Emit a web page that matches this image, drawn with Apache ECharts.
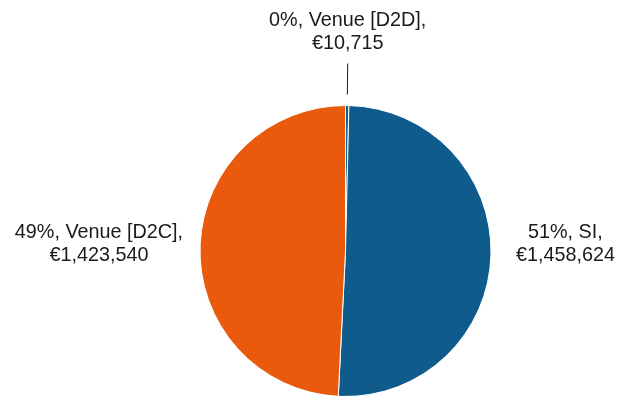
<!DOCTYPE html>
<html>
<head>
<meta charset="utf-8">
<script src="https://cdn.jsdelivr.net/npm/echarts@6/dist/echarts.min.js"></script>
<style>html,body{margin:0;padding:0;background:#fff}#c{width:617px;height:396px}</style>
</head>
<body>
<div id="c"></div>
<script>
const categories = ['Venue [D2D]', 'SI', 'Venue [D2C]'];
const values = [10715, 1458624, 1423540];
const colors = ['#175f8e', '#0f5c8c', '#ea5a0c'];

const fmt = v => '€' + v.toLocaleString('en-US');
const labelFormatter = p => '{c|' + p.percent + '%, ' + p.name + ',}\n{c|' + fmt(p.value) + '}';
const textStyle = { fontFamily: 'Liberation Sans, Arial, sans-serif', fontSize: 19.8, color: '#1a1a1a', lineHeight: 23 };
const lineLengths = [31, 25, 17];
const labelPads = [8, 26, 6];

const chart = echarts.init(document.getElementById('c'), null, { renderer: 'canvas' });
const center = [345.5, 251];
const R = 145.5;

chart.setOption({
  animation: false,
  series: [
    {
      type: 'pie',
      center: center,
      radius: [0, R],
      startAngle: 90,
      clockwise: true,
      percentPrecision: 0,
      avoidLabelOverlap: false,
      itemStyle: { borderColor: '#fff', borderWidth: 1 },
      label: {
        show: true,
        position: 'outside',
        formatter: labelFormatter,
        distanceToLabelLine: 0,
        rich: { c: Object.assign({ align: 'center' }, textStyle) },
        ...textStyle
      },
      data: categories.map((n, i) => ({
        name: n, value: values[i], itemStyle: { color: colors[i] },
        label: i === 0 ? { show: false } : { padding: [0, 0, labelPads[i], 0] },
        labelLine: { show: false, length: lineLengths[i], length2: 0 }
      }))
    },
    {
      type: 'pie',
      center: center,
      radius: [0, R + 11],
      startAngle: 90,
      clockwise: true,
      percentPrecision: 0,
      silent: true,
      avoidLabelOverlap: false,
      itemStyle: { color: 'rgba(0,0,0,0)' },
      label: {
        show: true,
        position: 'outside',
        formatter: labelFormatter,
        distanceToLabelLine: 0,
        padding: [0, 0, labelPads[0], 0],
        rich: { c: Object.assign({ align: 'center' }, textStyle) },
        ...textStyle
      },
      labelLine: { show: true, length: lineLengths[0], length2: 0, lineStyle: { color: '#1a1a1a', width: 1 } },
      labelLayout: function (params) {
        if (params.dataIndex !== 0 || !params.labelLinePoints) return {};
        const p = params.labelLinePoints;
        const last = p[p.length - 1];
        return { x: last[0], y: last[1], align: 'center', verticalAlign: 'bottom' };
      },
      data: categories.map((n, i) => ({
        name: n, value: values[i],
        label: i === 0 ? undefined : { show: false },
        labelLine: i === 0 ? undefined : { show: false }
      }))
    }
  ]
});
</script>
</body>
</html>
